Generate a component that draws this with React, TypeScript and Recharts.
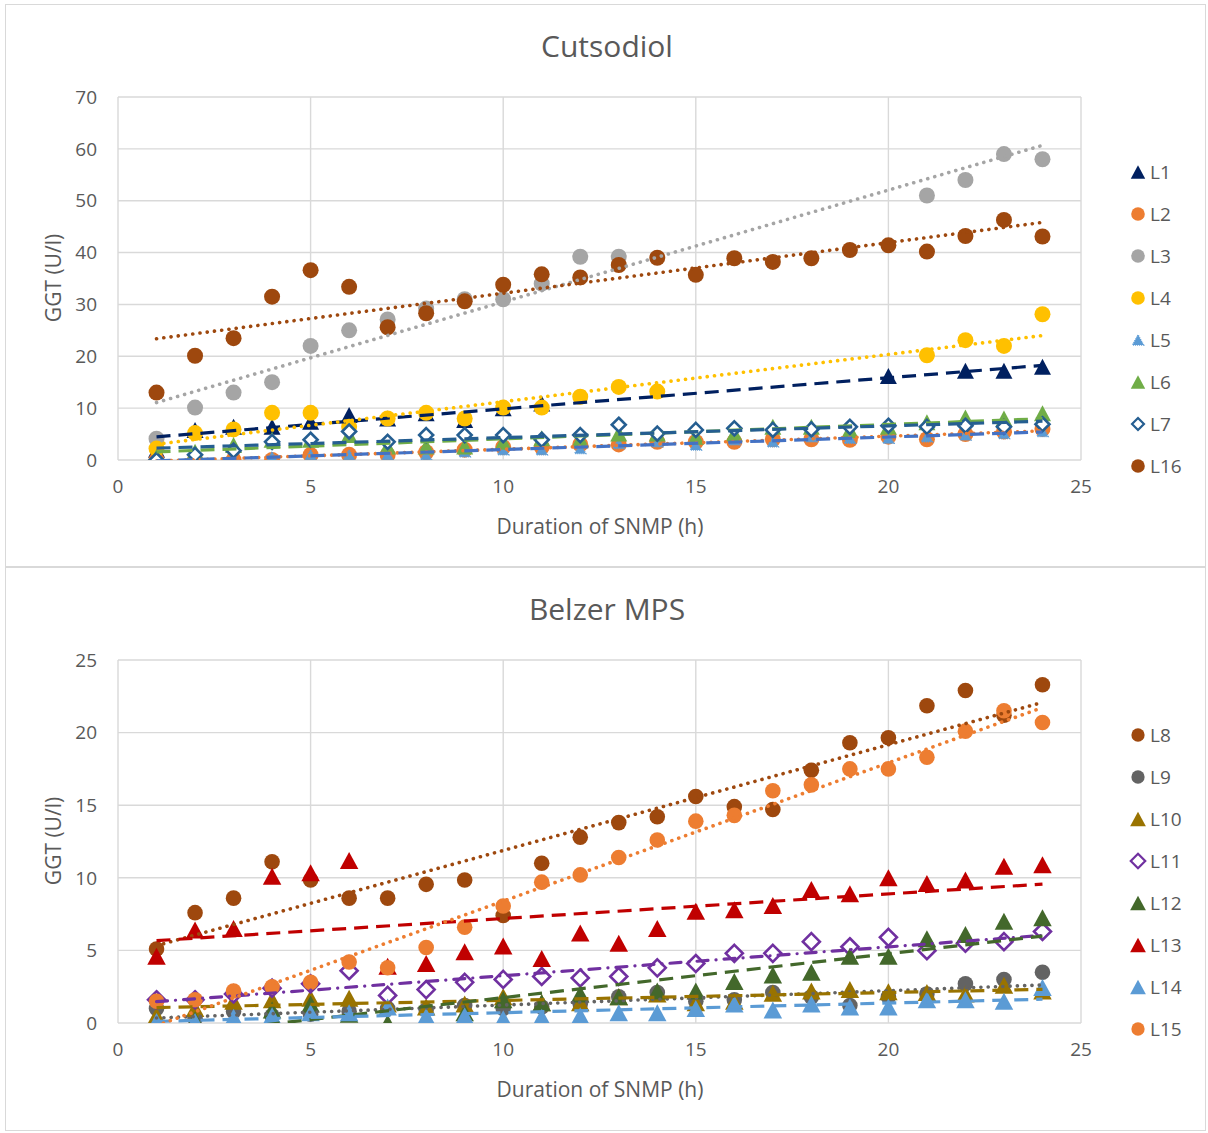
import React from 'react';
import { ScatterChart, Scatter, XAxis, YAxis, CartesianGrid } from 'recharts';

// ---------- data ----------
const HOURS = [1, 2, 3, 4, 5, 6, 7, 8, 9, 10, 11, 12, 13, 14, 15, 16, 17, 18, 19, 20, 21, 22, 23, 24];

const X_TICKS = [0, 5, 10, 15, 20, 25];
const TOP_Y_TICKS = [0, 10, 20, 30, 40, 50, 60, 70];
const BOT_Y_TICKS = [0, 5, 10, 15, 20, 25];

const TOP_TITLE = 'Cutsodiol';
const BOT_TITLE = 'Belzer MPS';
const X_TITLE = 'Duration of SNMP (h)';
const Y_TITLE = 'GGT (U/l)';

// Cutsodiol
const L1 = [2, 5.8, 6.4, 6.4, 7.4, 8.7, 8, 9, 7.7, 10, 10.9, null, null, null, null, null, null, null, null, 16.2, null, 17.2, 17.2, 18];
const L2 = [0, 0, 0, 0, 1, 1, 1, 1.5, 2, 2.5, 2.5, 3, 3, 3.5, 3.5, 3.5, 4, 4, 3.9, 4.5, 4, 5, 5.5, 6];
const L3 = [4.1, 10.1, 13, 15, 22, 25, 27.1, 29.2, 31, 31, 34, 39.2, 39.2, null, null, null, null, null, null, null, 51, 54, 59, 58];
const L4 = [2.2, 5.2, 5.9, 9.1, 9.1, 6.4, 8, 9.1, 8, 10.1, 10.1, 12.2, 14.1, 13.2, null, null, null, null, null, null, 20.2, 23.1, 22, 28.1];
const L5 = [0, 0, 0.6, 0.6, 1, 1, 1, 1, 1.6, 2, 2, 2.2, 3.2, 3.5, 2.9, 3.9, 3.5, 4.5, 4.2, 4.2, 4.5, 4.8, 5.1, 5.5];
const L6 = [0.6, 1.6, 2.9, 3.9, 3.9, 4.8, 2.6, 2.6, 2.6, 3.5, 4.2, 4, 5.1, 5.1, 4.5, 5.1, 6.4, 6.4, 5.8, 6.4, 7.3, 8.2, 8, 9];
const L7 = [0, 1, 1.8, 3.5, 3.9, 5.5, 3.5, 4.8, 4.8, 4.8, 3.9, 4.8, 6.8, 5.1, 5.8, 6.1, 5.8, 5.9, 6.4, 6.6, 6.4, 6.6, 6.4, 6.9];
const L16 = [13, 20.1, 23.5, 31.5, 36.6, 33.4, 25.6, 28.3, 30.6, 33.8, 35.8, 35.2, 37.6, 39, 35.7, 38.9, 38.2, 38.9, 40.5, 41.4, 40.2, 43.2, 46.3, 43.1];

// Belzer MPS
const L8 = [5.1, 7.6, 8.6, 11.1, 9.85, 8.6, 8.6, 9.55, 9.85, 7.4, 11.0, 12.8, 13.8, 14.2, 15.6, 14.9, 14.7, 17.4, 19.3, 19.65, 21.85, 22.9, 21.2, 23.3];
const L9 = [1.0, 0.3, 0.8, 0.5, 0.6, 0.8, 1.0, 0.9, 1.2, 1.0, 1.1, 1.3, 1.8, 2.1, 1.5, 1.6, 2.1, 1.8, 1.2, 1.8, 2.0, 2.7, 3.0, 3.5];
const L10 = [0.5, 1.0, 1.5, 1.6, 1.7, 1.7, 1.3, 1.1, 1.3, 1.8, 1.4, 1.4, 1.8, 2.0, 1.4, 1.5, 2.05, 2.2, 2.3, 2.15, 2.1, 2.0, 2.6, 2.2];
const L11 = [1.6, 1.6, 2.0, 2.4, 2.7, 3.6, 1.9, 2.3, 2.8, 3.0, 3.2, 3.1, 3.2, 3.8, 4.1, 4.8, 4.8, 5.6, 5.25, 5.9, 4.98, 5.5, 5.6, 6.3];
const L12 = [0.0, 0.2, 0.1, 0.9, 1.3, 0.6, 0.0, 0.1, 0.7, 1.6, 1.4, 2.0, 1.8, 2.2, 2.2, 2.85, 3.3, 3.5, 4.6, 4.6, 5.8, 6.1, 7.0, 7.25];
const L13 = [4.6, 6.4, 6.5, 10.1, 10.35, 11.2, 3.9, 4.1, 4.9, 5.3, 4.45, 6.2, 5.5, 6.5, 7.7, 7.8, 8.1, 9.2, 8.9, 10.0, 9.6, 9.85, 10.8, 10.9];
const L14 = [0.1, 0.1, 0.4, 0.5, 0.7, 0.7, 1.1, 0.45, 0.5, 0.3, 0.4, 0.5, 0.7, 0.7, 1.0, 1.3, 0.9, 1.3, 1.1, 1.1, 1.6, 1.6, 1.5, 2.45];
const L15 = [1.5, 1.6, 2.2, 2.5, 2.8, 4.2, 3.8, 5.2, 6.6, 8.06, 9.7, 10.2, 11.4, 12.6, 13.9, 14.3, 16.0, 16.4, 17.5, 17.5, 18.3, 20.1, 21.5, 20.7];

// ---------- styling ----------
type Kind = 'circle' | 'triangle' | 'smalltri' | 'diamond';
type Trend = 'dot' | 'dash' | 'dashdot';
interface Series {
  name: string;
  values: (number | null)[];
  color: string;
  kind: Kind;
  trend: Trend;
  trendColor?: string;
}

const TOP_SERIES: Series[] = [
  { name: 'L1', values: L1, color: '#002060', kind: 'triangle', trend: 'dash' },
  { name: 'L2', values: L2, color: '#ED7D31', kind: 'circle', trend: 'dot' },
  { name: 'L3', values: L3, color: '#A5A5A5', kind: 'circle', trend: 'dot' },
  { name: 'L4', values: L4, color: '#FFC000', kind: 'circle', trend: 'dot' },
  { name: 'L5', values: L5, color: '#5B9BD5', kind: 'smalltri', trend: 'dash', trendColor: '#4472C4' },
  { name: 'L6', values: L6, color: '#70AD47', kind: 'triangle', trend: 'dash' },
  { name: 'L7', values: L7, color: '#255E91', kind: 'diamond', trend: 'dash' },
  { name: 'L16', values: L16, color: '#9E480E', kind: 'circle', trend: 'dot' },
];

const BOT_SERIES: Series[] = [
  { name: 'L8', values: L8, color: '#9E480E', kind: 'circle', trend: 'dot' },
  { name: 'L9', values: L9, color: '#636363', kind: 'circle', trend: 'dot' },
  { name: 'L10', values: L10, color: '#997300', kind: 'triangle', trend: 'dash' },
  { name: 'L11', values: L11, color: '#7030A0', kind: 'diamond', trend: 'dashdot' },
  { name: 'L12', values: L12, color: '#43682B', kind: 'triangle', trend: 'dash' },
  { name: 'L13', values: L13, color: '#C00000', kind: 'triangle', trend: 'dash' },
  { name: 'L14', values: L14, color: '#5B9BD5', kind: 'triangle', trend: 'dash' },
  { name: 'L15', values: L15, color: '#ED7D31', kind: 'circle', trend: 'dot' },
];

const FONT = '"Open Sans", "Noto Sans", sans-serif';
const TEXT = '#595959';
const GRID = '#D9D9D9';

function toPoints(values: (number | null)[]) {
  const pts: { x: number; y: number }[] = [];
  values.forEach((v, i) => {
    if (v !== null && v !== undefined) pts.push({ x: HOURS[i], y: v });
  });
  return pts;
}

// least-squares linear trendline (as Excel does)
function trendPoints(values: (number | null)[]) {
  const pts = toPoints(values);
  const n = pts.length;
  const mx = pts.reduce((s, p) => s + p.x, 0) / n;
  const my = pts.reduce((s, p) => s + p.y, 0) / n;
  let sxy = 0;
  let sxx = 0;
  pts.forEach((p) => {
    sxy += (p.x - mx) * (p.y - my);
    sxx += (p.x - mx) * (p.x - mx);
  });
  const b = sxy / sxx;
  const a = my - b * mx;
  const x0 = Math.min(...pts.map((p) => p.x));
  const x1 = Math.max(...pts.map((p) => p.x));
  return [
    { x: x0, y: a + b * x0 },
    { x: x1, y: a + b * x1 },
  ];
}

function lineStyle(t: Trend) {
  if (t === 'dot') return { strokeWidth: 3.6, strokeDasharray: '0.1 7.2', strokeLinecap: 'round' as const };
  if (t === 'dashdot') return { strokeWidth: 3.2, strokeDasharray: '11 8 0.1 8', strokeLinecap: 'round' as const };
  return { strokeWidth: 3.2, strokeDasharray: '14 8', strokeLinecap: 'butt' as const };
}

function drawMarker(kind: Kind, color: string, cx: number, cy: number, big: boolean) {
  if (kind === 'circle') {
    return <circle cx={cx} cy={cy} r={big ? 7.8 : 8} fill={color} />;
  }
  if (kind === 'triangle') {
    const w = big ? 18.5 : 17;
    const h = big ? 17 : 16;
    return (
      <polygon
        points={`${cx},${cy - h / 2} ${cx - w / 2},${cy + h / 2} ${cx + w / 2},${cy + h / 2}`}
        fill={color}
      />
    );
  }
  if (kind === 'smalltri') {
    const w = 11;
    const h = 10;
    return (
      <polygon
        points={`${cx},${cy - h / 2} ${cx - w / 2},${cy + h / 2} ${cx + w / 2},${cy + h / 2}`}
        fill={color}
        stroke={color}
        strokeWidth={1.5}
        strokeDasharray="1 1"
      />
    );
  }
  const d = big ? 8.5 : 7;
  return (
    <polygon
      points={`${cx},${cy - d} ${cx + d},${cy} ${cx},${cy + d} ${cx - d},${cy}`}
      fill="#FFFFFF"
      stroke={color}
      strokeWidth={2.6}
    />
  );
}

function LegendIcon({ s, big }: { s: Series; big: boolean }) {
  const scale = s.kind === 'smalltri' ? 1 : 0.85;
  return (
    <svg width={22} height={22} style={{ display: 'block' }}>
      <g transform={`translate(11,11) scale(${scale}) translate(-11,-11)`}>{drawMarker(s.kind, s.color, 11, 11, big)}</g>
    </svg>
  );
}

const textBase: React.CSSProperties = {
  position: 'absolute',
  fontFamily: FONT,
  color: TEXT,
  whiteSpace: 'nowrap',
  lineHeight: 1,
};

function Panel({
  top,
  title,
  series,
  yMax,
  yTicks,
  big,
}: {
  top: number;
  title: string;
  series: Series[];
  yMax: number;
  yTicks: number[];
  big: boolean;
}) {
  return (
    <div style={{ position: 'absolute', left: 0, top, width: 1208, height: 567 }}>
      <ScatterChart
        width={1208}
        height={567}
        margin={{ top: 97, right: 127, left: 58, bottom: 77 }}
        style={{ position: 'absolute', left: 0, top: 0 }}
      >
        <CartesianGrid stroke={GRID} strokeWidth={1.4} />
        <XAxis
          type="number"
          dataKey="x"
          domain={[0, 25]}
          ticks={X_TICKS}
          height={30}
          axisLine={false}
          tickLine={false}
          tickSize={0}
          tickMargin={20}
          tick={{ fill: TEXT, fontSize: 19, fontFamily: FONT }}
          allowDataOverflow
        />
        <YAxis
          type="number"
          dataKey="y"
          domain={[0, yMax]}
          ticks={yTicks}
          width={60}
          axisLine={false}
          tickLine={false}
          tickSize={0}
          tickMargin={21}
          tick={{ fill: TEXT, fontSize: 19, fontFamily: FONT }}
          allowDataOverflow
        />
        {series.map((s) => (
          <Scatter
            key={s.name}
            name={s.name}
            data={toPoints(s.values)}
            fill={s.color}
            isAnimationActive={false}
            shape={(p: any) =>
              p && p.cx != null && p.cy != null ? drawMarker(s.kind, s.color, p.cx, p.cy, big) : <g />
            }
          />
        ))}
        {series.map((s) => (
          <Scatter
            key={s.name + '-trend'}
            name={s.name + ' trend'}
            data={trendPoints(s.values)}
            fill={s.trendColor || s.color}
            isAnimationActive={false}
            line={{
              stroke: s.trendColor || s.color,
              ...lineStyle(s.trend),
            }}
            lineType="joint"
            shape={() => <g />}
          />
        ))}
      </ScatterChart>

      <div style={{ ...textBase, left: 607, top: 46, fontSize: 30, transform: 'translate(-50%, -50%)' }}>
        {title}
      </div>
      <div style={{ ...textBase, left: 600, top: 526, fontSize: 21, transform: 'translate(-50%, -50%)' }}>
        {X_TITLE}
      </div>
      <div
        style={{
          ...textBase,
          left: 53,
          top: 278,
          fontSize: 21,
          transform: 'translate(-50%, -50%) rotate(-90deg)',
        }}
      >
        {Y_TITLE}
      </div>

      {series.map((s, i) => (
        <div
          key={s.name + '-lg'}
          style={{
            position: 'absolute',
            left: 1127,
            top: 172 + i * 42 - 11,
            height: 22,
            display: 'flex',
            alignItems: 'center',
          }}
        >
          <LegendIcon s={s} big={big} />
          <span style={{ fontFamily: FONT, color: TEXT, fontSize: 19, marginLeft: 1, lineHeight: 1 }}>{s.name}</span>
        </div>
      ))}
    </div>
  );
}

export default function App() {
  return (
    <div style={{ position: 'absolute', left: 0, top: 0, width: 1208, height: 1133, background: '#FFFFFF' }}>
      <div
        style={{
          position: 'absolute',
          left: 5,
          top: 4,
          width: 1201,
          height: 563,
          border: `1.5px solid ${GRID}`,
          boxSizing: 'border-box',
        }}
      />
      <div
        style={{
          position: 'absolute',
          left: 5,
          top: 567,
          width: 1201,
          height: 564,
          border: `1.5px solid ${GRID}`,
          boxSizing: 'border-box',
        }}
      />
      <Panel top={0} title={TOP_TITLE} series={TOP_SERIES} yMax={70} yTicks={TOP_Y_TICKS} big={false} />
      <Panel top={563} title={BOT_TITLE} series={BOT_SERIES} yMax={25} yTicks={BOT_Y_TICKS} big={true} />
    </div>
  );
}
